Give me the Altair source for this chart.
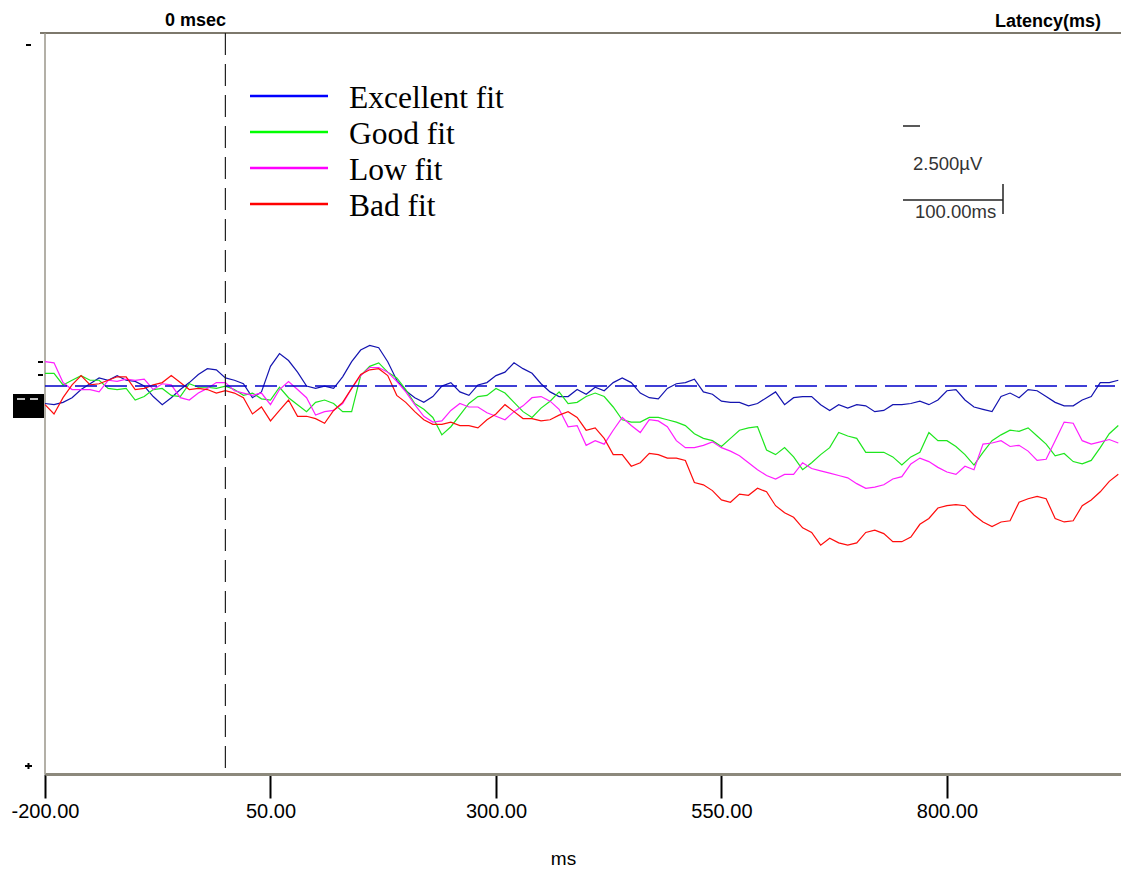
import altair as alt
import pandas as pd

# ---------------- data ----------------
TIMES_MS = list(range(-200, 1000, 10))

EXCELLENT_FIT = [
    1.5, 1.6, 1.4, 1.0, 0.3, -0.2, -0.7, -0.5, -0.9, -0.5,
    -0.4, 0.0, 0.9, 1.6, 1.0, 0.3, -0.3, -1.0, -1.5, -1.4,
    -0.7, -0.5, -0.2, 1.0, 0.5, -1.7, -2.8, -2.2, -1.2, 0.0,
    0.2, 0.0, 0.2, -0.8, -2.1, -3.1, -3.5, -3.3, -2.1, -0.5,
    0.4, 1.0, 1.4, 0.9, 0.0, -0.3, 0.5, 0.8, -0.1, -0.3,
    -0.9, -1.2, -2.0, -1.5, -1.1, -0.2, 0.5, 0.9, 0.9, 0.3,
    0.7, 0.1, 0.4, -0.3, -0.7, -0.3, 0.6, 1.0, 1.1, 0.2,
    -0.2, -0.3, -0.6, 0.5, 0.7, 1.3, 1.4, 1.4, 1.7, 1.5,
    1.0, 0.5, 1.6, 1.0, 0.9, 0.9, 1.6, 2.1, 1.6, 1.9,
    1.6, 1.7, 2.2, 2.1, 1.6, 1.6, 1.5, 1.3, 1.6, 1.2,
    0.4, 0.3, 1.2, 1.8, 2.0, 2.2, 0.9, 0.6, 1.0, 0.3,
    0.4, 0.9, 1.4, 1.7, 1.7, 1.2, 0.9, -0.3, -0.3, -0.5,
]

GOOD_FIT = [
    -1.1, -1.1, -0.1, -0.5, -0.9, -0.5, -0.5, 0.2, 0.3, 0.2,
    1.2, 0.9, 0.3, 0.2, 0.8, 0.9, -0.2, 0.1, 0.1, 0.2,
    0.0, 0.3, 0.8, 0.6, 1.1, 1.2, 0.1, 1.0, 1.6, 2.2,
    1.4, 1.2, 1.5, 2.2, 2.2, -0.9, -1.7, -2.0, -1.2, -0.7,
    0.3, 1.5, 2.0, 2.7, 4.2, 3.5, 2.5, 1.5, 0.9, 0.8,
    0.2, 0.6, 1.4, 2.2, 2.7, 1.9, 1.3, 0.5, 1.5, 1.4,
    0.9, 0.6, 0.9, 1.8, 2.9, 3.1, 3.1, 2.7, 2.7, 2.9,
    3.1, 3.4, 4.1, 4.5, 4.7, 5.2, 4.5, 3.8, 3.6, 3.5,
    5.5, 5.9, 5.3, 6.1, 7.2, 6.6, 5.9, 5.3, 4.0, 4.3,
    4.5, 5.7, 5.7, 5.7, 6.1, 6.8, 6.1, 5.7, 4.0, 4.7,
    4.7, 5.2, 5.9, 6.8, 5.7, 4.7, 4.2, 3.8, 3.9, 3.6,
    4.3, 5.0, 6.0, 5.8, 6.5, 6.7, 6.4, 5.3, 4.1, 3.4,
]

LOW_FIT = [
    -2.1, -2.0, -0.3, 0.3, 0.3, 0.3, 0.5, -0.5, -0.4, -0.6,
    -0.5, -0.6, 0.3, -0.2, -0.1, 1.0, 1.2, 0.6, 0.2, -0.3,
    -0.3, 0.4, 0.6, 0.8, 0.6, 1.6, 0.3, -0.4, 0.3, 1.0,
    2.5, 2.2, 2.1, 1.5, 0.2, -0.9, -1.6, -1.6, -1.2, -0.4,
    0.5, 1.6, 2.6, 3.1, 3.0, 2.1, 1.5, 1.8, 1.8, 2.3,
    2.6, 2.9, 2.2, 1.7, 1.0, 0.9, 1.3, 2.0, 3.5, 3.4,
    5.1, 4.7, 5.0, 3.8, 2.7, 3.4, 4.0, 2.9, 3.0, 3.5,
    4.7, 5.3, 5.3, 5.1, 4.8, 5.3, 5.6, 6.0, 6.6, 7.2,
    7.7, 8.0, 7.6, 7.6, 6.6, 7.1, 7.3, 7.5, 7.7, 7.9,
    8.4, 8.8, 8.7, 8.5, 8.0, 7.8, 6.7, 6.2, 6.5, 7.0,
    7.4, 7.6, 6.9, 7.2, 5.0, 4.9, 4.7, 5.2, 5.1, 5.6,
    6.4, 6.3, 4.7, 3.1, 3.2, 4.7, 5.0, 4.8, 4.6, 4.9,
]

BAD_FIT = [
    1.6, 2.4, 1.0, -0.1, -0.9, -0.1, -0.2, -0.5, -0.8, -0.8,
    0.3, 0.2, -0.1, -0.3, -0.9, -0.3, 0.3, 0.2, 0.3, 0.6,
    0.4, 0.6, 1.0, 2.4, 1.8, 3.0, 2.1, 1.2, 2.6, 2.6,
    2.8, 3.2, 2.1, 1.4, 0.2, -1.0, -1.4, -1.5, -0.9, 0.8,
    1.4, 2.2, 2.9, 3.3, 3.3, 3.1, 3.4, 3.4, 3.6, 2.9,
    2.4, 1.6, 2.2, 2.8, 2.8, 3.0, 2.9, 2.5, 2.2, 2.7,
    3.8, 3.6, 4.5, 5.9, 5.9, 6.9, 6.6, 5.8, 5.9, 6.2,
    6.2, 6.4, 8.3, 8.5, 9.0, 9.8, 10.0, 9.3, 9.4, 8.8,
    9.1, 10.3, 10.9, 11.3, 12.2, 12.6, 13.7, 13.1, 13.5, 13.7,
    13.5, 12.6, 12.4, 12.7, 13.4, 13.4, 13.0, 11.9, 11.4, 10.5,
    10.3, 10.2, 10.3, 11.1, 11.7, 12.1, 11.7, 11.6, 10.0, 9.7,
    9.5, 9.7, 11.4, 11.7, 11.6, 10.3, 9.8, 9.1, 8.2, 7.6,
]

SERIES_NAMES = ["Excellent fit", "Good fit", "Low fit", "Bad fit"]
TRACE_COLORS = ["#1414b0", "#1ee61e", "#ff1eff", "#ff0c0c"]
LEGEND_COLORS = ["#0000ff", "#00ff00", "#ff00ff", "#ff0000"]
X_TICKS = [-200, 50, 300, 550, 800]
X_DOMAIN = [-200, 993]
Y_DOMAIN = [-30.4, 33.4]

# ---------------- layout ----------------
W, H = 1076, 741

rows = []
for name, vals in zip(SERIES_NAMES, [EXCELLENT_FIT, GOOD_FIT, LOW_FIT, BAD_FIT]):
    for t, v in zip(TIMES_MS, vals):
        rows.append({"t": t, "v": v, "series": name})
df = pd.DataFrame(rows)
one = pd.DataFrame({"k": [0]})

x_scale = alt.Scale(domain=X_DOMAIN, nice=False, zero=False)
y_scale = alt.Scale(domain=Y_DOMAIN, reverse=True, nice=False, zero=False)

x_axis = alt.Axis(
    values=X_TICKS,
    labelExpr="datum.value < 0 ? '-' + format(-datum.value, '.2f') : format(datum.value, '.2f')",
    domain=True, domainColor="#8c897c", domainWidth=3,
    ticks=True, tickColor="#000000", tickWidth=2, tickSize=24,
    labelFont="Liberation Sans", labelFontSize=20, labelColor="#000000",
    labelPadding=3, labelFlush=False, labelOverlap=False, grid=False,
    title="ms", titleFont="Liberation Sans", titleFontSize=19,
    titleFontWeight="normal", titleColor="#000000",
    titleX=518, titleY=90, titleBaseline="alphabetic", titleAlign="center",
)

lines = alt.Chart(df).mark_line(strokeWidth=1.2).encode(
    x=alt.X("t:Q", scale=x_scale, axis=x_axis),
    y=alt.Y("v:Q", scale=y_scale, axis=None),
    color=alt.Color("series:N", scale=alt.Scale(domain=SERIES_NAMES, range=TRACE_COLORS), legend=None),
)


def rule(x, x2, y, y2, color, width, dash=None):
    kw = dict(color=color, strokeWidth=width)
    if dash is not None:
        kw["strokeDash"] = dash
    return alt.Chart(one).mark_rule(**kw).encode(
        x=alt.value(x), x2=alt.value(x2), y=alt.value(y), y2=alt.value(y2)
    )


def txt(s, x, y, size, weight="normal", font="Liberation Sans", align="left", color="#000000"):
    return alt.Chart(one).mark_text(
        text=s, font=font, fontSize=size, fontWeight=weight, align=align,
        baseline="alphabetic", color=color,
    ).encode(x=alt.value(x), y=alt.value(y))


layers = []
# frame
layers.append(rule(-5, W, 0, 0, "#7d786c", 2))
layers.append(rule(0, 0, 0, H, "#9a968a", 1.5))
# left markers
layers.append(rule(-19, -14, 12, 12, "#000000", 2))
layers.append(rule(-20, -13, 733, 733, "#000000", 2))
layers.append(rule(-16.5, -16.5, 730, 736, "#000000", 2))
layers.append(rule(-7, -2, 329, 329, "#000000", 2))
layers.append(rule(-7, -2, 342, 342, "#000000", 2))
layers.append(alt.Chart(one).mark_rect(color="#000000").encode(
    x=alt.value(-32), x2=alt.value(-1), y=alt.value(361), y2=alt.value(385)))
layers.append(rule(-28, -20, 366, 366, "#ffffff", 1.5))
layers.append(rule(-15, -7, 366, 366, "#ffffff", 1.5))

# traces
layers.append(lines)

# baseline (0 µV) and stimulus onset (0 ms)
layers.append(alt.Chart(one).mark_rule(color="#0000c8", strokeWidth=1.5, strokeDash=[22, 8]).encode(
    y=alt.datum(0), x=alt.value(0), x2=alt.value(W - 6)))
layers.append(alt.Chart(one).mark_rule(color="#222222", strokeWidth=1.2, strokeDash=[22, 9]).encode(
    x=alt.datum(0), y=alt.value(0), y2=alt.value(H)))

# top labels
layers.append(txt("0 msec", 181, -7, 18, weight="bold", align="right"))
layers.append(txt("Latency(ms)", 1056, -6, 18, weight="bold", align="right"))

# legend
for i, (name, col) in enumerate(zip(SERIES_NAMES, LEGEND_COLORS)):
    ly = 63 + 36 * i
    layers.append(rule(205, 283, ly, ly, col, 2.5))
    layers.append(txt(name, 304, ly + 12, 31.5, font="Liberation Serif"))

# calibration bar
layers.append(rule(858, 875, 93, 93, "#222222", 1.5))
layers.append(txt("2.500\u00b5V", 868, 137, 18.5, color="#333333"))
layers.append(rule(858, 958, 167, 167, "#222222", 1.5))
layers.append(rule(958, 958, 151, 181, "#222222", 1.5))
layers.append(txt("100.00ms", 870, 185, 18.5, color="#333333"))

chart = alt.layer(*layers).properties(
    width=W, height=H,
    padding={"left": 45, "top": 33, "right": 0, "bottom": 97},
    autosize=alt.AutoSizeParams(type="none"),
    background="#ffffff",
).configure_view(strokeWidth=0)

chart.save("out.html", embed_options={"renderer": "svg", "actions": False})
